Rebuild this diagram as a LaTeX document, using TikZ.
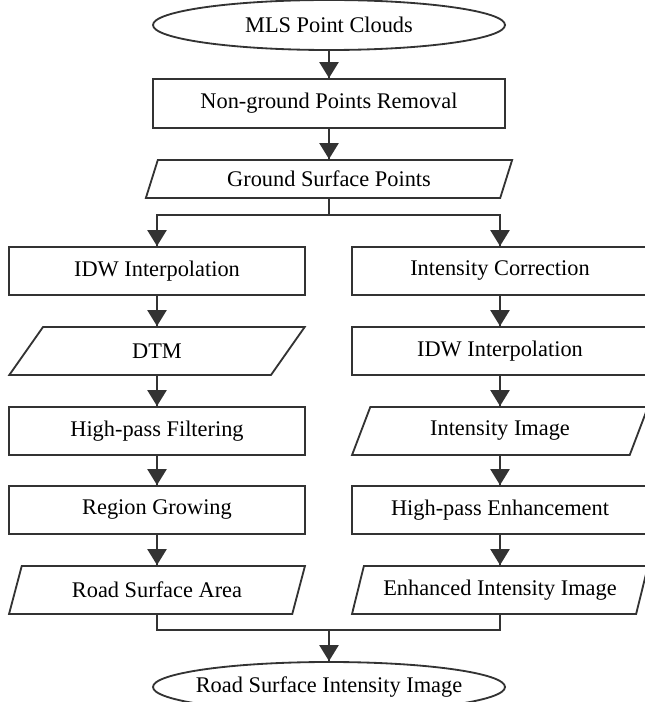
\documentclass[tikz,border=0pt]{standalone}
\usepackage{fontspec}
\setmainfont{Liberation Serif}
\usepackage{tikz}
\usetikzlibrary{arrows.meta}
\usetikzlibrary{decorations.markings}
\usetikzlibrary{shapes.geometric}
\definecolor{linegray}{HTML}{333333}
\tikzset{->/.style = {decoration={markings,
                                  mark=at position 1 with {\arrow{Triangle[length=4mm, width=4.8mm]}}},
                      postaction={decorate}}}
\tikzset{link/.style = {linegray, line width=1.3pt}}
\tikzset{box/.style = {draw=linegray, line width=1.3pt, rectangle, inner sep=0,
                       minimum width=7.4cm, minimum height=1.2cm}}
\tikzset{data/.style = {draw=linegray, line width=1.3pt, trapezium, inner sep=0,
                        trapezium left angle=63.4, trapezium right angle=116.6,
                        trapezium stretches=true, minimum width=7.4cm, minimum height=1.2cm}}
\tikzset{term/.style = {draw=linegray, line width=1.3pt, ellipse, inner ysep=0, inner xsep=-0.5cm,
                        minimum width=8.8cm, minimum height=1.25cm}}

\begin{document}
\begin{tikzpicture}[x=0.025cm, y=-0.025cm, font=\fontsize{15.9}{18}\selectfont]
    \useasboundingbox (0, 0) rectangle (644, 702);
    \node [term] (mls) at (329, 25) {MLS Point Clouds};
    \node [box, minimum width=8.8cm, minimum height=1.225cm] (removal) at (329, 103.5) {Non-ground Points Removal};
    \node [data, minimum width=9.175cm, minimum height=0.95cm,
           trapezium left angle=66, trapezium right angle=114] (ground) at (329, 179) {Ground Surface Points};
    \coordinate (split) at (329, 215);
    \node [box] (idwl) at (157, 271) {IDW Interpolation};
    \node [data] (dtm) at (157, 351) {DTM};
    \node [box] (hpf) at (157, 431) {High-pass Filtering};
    \node [box] (grow) at (157, 510) {Region Growing};
    \node [data] (area) at (157, 590) {Road Surface Area};
    \node [box] (corr) at (500, 271) {Intensity Correction};
    \node [box] (idwr) at (500, 351) {IDW Interpolation};
    \node [data] (iimg) at (500, 431) {Intensity Image};
    \node [box] (hpe) at (500, 510) {High-pass Enhancement};
    \node [data] (eimg) at (500, 590) {Enhanced Intensity Image};
    \coordinate (merge) at (329, 630);
    \node [term] (result) at (329, 687) {Road Surface Intensity Image};
    \draw [link, ->] (mls) -- (removal);
    \draw [link, ->] (removal) -- (ground);
    \draw [link] (ground.south) -- (split);
    \draw [link, ->] (split) -| (idwl.north);
    \draw [link, ->] (split) -| (corr.north);
    \foreach \a/\b in {idwl/dtm, dtm/hpf, hpf/grow, grow/area,
                       corr/idwr, idwr/iimg, iimg/hpe, hpe/eimg} {
      \draw [link, ->] (\a) -- (\b);
    }
    \draw [link] (area.south) |- (merge) -| (eimg.south);
    \draw [link, ->] (merge) -- (result);
\end{tikzpicture}
\end{document}
